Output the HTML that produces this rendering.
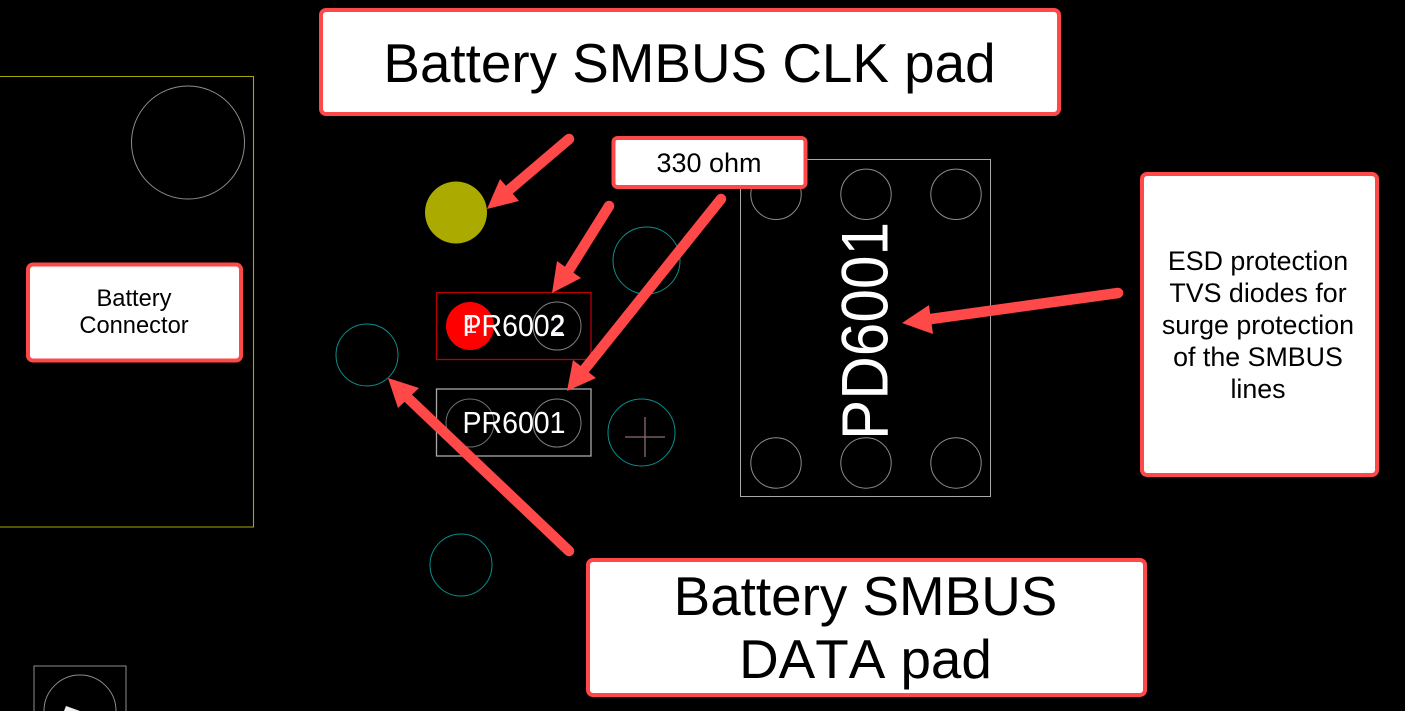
<!DOCTYPE html>
<html><head><meta charset="utf-8"><style>
html,body{margin:0;padding:0;background:#000;width:1405px;height:711px;overflow:hidden}
svg{display:block;position:absolute;left:0;top:0;overflow:hidden}
text{font-family:"Liberation Sans",Arial,sans-serif}
</style></head><body>
<svg width="1405" height="711" viewBox="0 0 1405 711" xmlns="http://www.w3.org/2000/svg">
<rect width="1405" height="711" fill="#000"/>
<g fill="none">
<path d="M0 76.5H253.500V527H0" stroke="#a8a800" stroke-width="1.100"/>
<circle cx="188" cy="142.500" r="56.500" stroke="#8c8c8c"/>
<circle cx="456" cy="212.500" r="31" fill="#aaaa00" stroke="none"/>
<circle cx="646.500" cy="260.500" r="33.500" stroke="#0b8d8d"/>
<circle cx="367" cy="355" r="31" stroke="#0b8d8d"/>
<circle cx="641.500" cy="432.500" r="33.500" stroke="#0b8d8d"/>
<circle cx="461" cy="565" r="31" stroke="#0b8d8d"/>
<path d="M645 417V457M625 437H665" stroke="#8a6d70" stroke-width="1.300"/>
<rect x="436.500" y="292.500" width="154.500" height="67" stroke="#b80000" stroke-width="1.300"/>
<rect x="436.500" y="389" width="154.500" height="67" stroke="#a8a8a8" stroke-width="1.300"/>
<circle cx="470" cy="326" r="24" fill="#f00" stroke="none"/>
<circle cx="557" cy="326" r="24" stroke="#808080"/>
<circle cx="470" cy="423" r="24" stroke="#707070"/>
<circle cx="557" cy="423" r="24" stroke="#808080"/>
<rect x="740.500" y="159.500" width="250" height="337" stroke="#a8a8a8"/>
<circle cx="776" cy="194.300" r="25.200" stroke="#8c8c8c"/>
<circle cx="866" cy="194.300" r="25.200" stroke="#8c8c8c"/>
<circle cx="956" cy="194.300" r="25.200" stroke="#8c8c8c"/>
<circle cx="776" cy="463" r="25.200" stroke="#8c8c8c"/>
<circle cx="866" cy="463" r="25.200" stroke="#8c8c8c"/>
<circle cx="956" cy="463" r="25.200" stroke="#8c8c8c"/>
<path d="M34 711V666H126V711" stroke="#8c8c8c"/>
<path d="M44 711A36 36 0 0 1 116 711" stroke="#8c8c8c"/>
</g>
<path d="M64 711L66 706L80 711Z" fill="#eee"/>
<text x="470.500" y="333" font-size="24" fill="#e8e0f0" text-anchor="middle">1</text>
<text x="557" y="334" font-size="26" fill="#e8e0f0" text-anchor="middle">2</text>
<text x="514" y="336" font-size="30.500" fill="#fff" text-anchor="middle" textLength="103" lengthAdjust="spacingAndGlyphs">PR6002</text>
<text x="514" y="433" font-size="30.500" fill="#fff" text-anchor="middle" textLength="103" lengthAdjust="spacingAndGlyphs">PR6001</text>
<text transform="translate(887.500 331) rotate(-90)" font-size="65.500" fill="#fff" text-anchor="middle" textLength="218" lengthAdjust="spacingAndGlyphs">PD6001</text>
<g stroke="#ff4848" stroke-width="10.500" stroke-linecap="round" fill="none">
<path d="M569 139L509 190"/>
<path d="M609 206L569 270"/>
<path d="M721 199L584 370"/>
<path d="M1118 293L931 319"/>
<path d="M569 551L408 398"/>
</g>
<g fill="#ff4848">
<path d="M487 209L500 179L519 201Z"/>
<path d="M552 293L557 261L581 278Z"/>
<path d="M567 391L573 360L596 378Z"/>
<path d="M902 323L929 305L933 334Z"/>
<path d="M388 378L419 388L398 408Z"/>
</g>
<g fill="#fff" stroke="#ff4848" stroke-width="4">
<rect x="321" y="10" width="738" height="104" rx="5"/>
<rect x="613.500" y="138" width="192" height="49" rx="4"/>
<rect x="28" y="264.500" width="213" height="96" rx="5"/>
<rect x="1142" y="174" width="235" height="301" rx="5"/>
<rect x="588" y="560" width="557" height="135" rx="5"/>
</g>
<g fill="#000" text-anchor="middle">
<text x="689.500" y="82" font-size="54.800">Battery SMBUS CLK pad</text>
<text x="709" y="172" font-size="27">330 ohm</text>
<text x="134" y="306" font-size="23.700">Battery</text>
<text x="134" y="333" font-size="23.700">Connector</text>
<g font-size="26.800">
<text x="1258" y="270">ESD protection</text>
<text x="1258" y="302">TVS diodes for</text>
<text x="1258" y="334">surge protection</text>
<text x="1258" y="366">of the SMBUS</text>
<text x="1258" y="398">lines</text>
</g>
<text x="865.500" y="615" font-size="54.800">Battery SMBUS</text>
<text x="865.500" y="678" font-size="54.800" style="font-kerning:none">DATA pad</text>
</g>
</svg>
</body></html>
